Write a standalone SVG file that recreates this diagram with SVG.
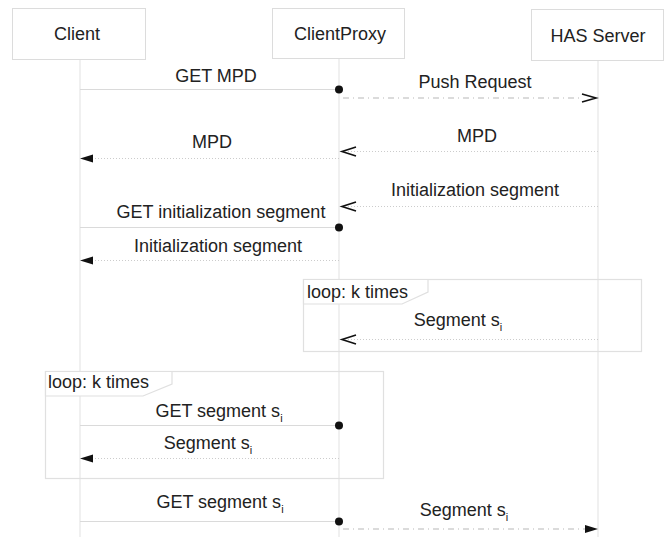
<svg xmlns="http://www.w3.org/2000/svg" width="665" height="537" viewBox="0 0 665 537">
  <style>
    text, tspan { font-family: "Liberation Sans", Arial, sans-serif; font-size: 18px; fill: #222; }
    .mid { text-anchor: middle; }
    tspan.sub { font-size: 11px; fill: #222; }
    .box { fill: #fff; stroke: #dcdcdc; stroke-width: 1; }
    .life { stroke: #e6e6e6; stroke-width: 1.2; fill: none; }
    .frame { fill: none; stroke: #e0e0e0; stroke-width: 1.2; }
    .tab { fill: #fff; stroke: #e0e0e0; stroke-width: 1.2; }
    .call { stroke: #dadada; stroke-width: 1.2; fill: none; }
    .reply { stroke: #cccccc; stroke-width: 1.2; stroke-dasharray: 1 2; fill: none; }
    .push { stroke: #d0d0d0; stroke-width: 1.3; stroke-dasharray: 6 4 1 4; fill: none; }
    .open { stroke: #111; stroke-width: 1.6; fill: none; }
    .solid { fill: #111; stroke: none; }
  </style>

  <!-- lifelines -->
  <g id="lifelines">
    <line class="life" x1="80" y1="59" x2="80" y2="537"/>
    <line class="life" x1="339" y1="58" x2="339" y2="537"/>
    <line class="life" x1="598" y1="60" x2="598" y2="537"/>
  </g>

  <!-- participants -->
  <g id="client">
    <rect class="box" x="12.5" y="8.5" width="133" height="51"/>
    <text class="mid" x="77" y="40">Client</text>
  </g>
  <g id="clientproxy">
    <rect class="box" x="272.5" y="8.5" width="132" height="50"/>
    <text class="mid" x="340" y="40">ClientProxy</text>
  </g>
  <g id="has-server">
    <rect class="box" x="531.5" y="9.5" width="132" height="51"/>
    <text class="mid" x="598" y="42">HAS Server</text>
  </g>

  <!-- loop frames -->
  <g id="loop-server">
    <rect class="frame" x="303.5" y="279.5" width="338" height="72"/>
    <path class="tab" d="M303.5,304 L402,304 L428,292 L428,279.5 L303.5,279.5 Z"/>
    <text x="307" y="298">loop: k times</text>
  </g>
  <g id="loop-client">
    <rect class="frame" x="45.5" y="371.5" width="338" height="107"/>
    <path class="tab" d="M45.5,396 L143,396 L172,384 L172,371.5 L45.5,371.5 Z"/>
    <text x="48" y="388">loop: k times</text>
  </g>

  <!-- messages -->
  <g id="connectors">
    <!-- GET MPD -->
    <line class="call" x1="80" y1="89.5" x2="339" y2="89.5"/>
    <circle class="solid" cx="339" cy="89.5" r="4"/>
    <text class="mid" x="216" y="82">GET MPD</text>

    <!-- Push Request -->
    <line class="push" x1="343" y1="98" x2="583" y2="98"/>
    <polyline class="open" points="582,94 596,98 582,102"/>
    <text class="mid" x="475" y="88">Push Request</text>

    <!-- MPD server to proxy -->
    <line class="reply" x1="598" y1="151.5" x2="346" y2="151.5"/>
    <polyline class="open" points="356,147 342,151.5 356,156"/>
    <text class="mid" x="477" y="142">MPD</text>

    <!-- MPD proxy to client -->
    <line class="reply" x1="339" y1="158.5" x2="90" y2="158.5"/>
    <polygon class="solid" points="80,158.5 93,154.5 93,162.5"/>
    <text class="mid" x="212" y="148">MPD</text>

    <!-- Initialization segment server to proxy -->
    <line class="reply" x1="598" y1="206.5" x2="346" y2="206.5"/>
    <polyline class="open" points="356,202 342,206.5 356,211"/>
    <text class="mid" x="475" y="196">Initialization segment</text>

    <!-- GET initialization segment -->
    <line class="call" x1="80" y1="227.5" x2="339" y2="227.5"/>
    <circle class="solid" cx="339" cy="227.5" r="4"/>
    <text class="mid" x="221" y="218">GET initialization segment</text>

    <!-- Initialization segment proxy to client -->
    <line class="reply" x1="339" y1="260.5" x2="90" y2="260.5"/>
    <polygon class="solid" points="80,260.5 93,256.5 93,264.5"/>
    <text class="mid" x="218" y="252">Initialization segment</text>

    <!-- Segment s_i server to proxy (loop) -->
    <line class="reply" x1="598" y1="339.5" x2="346" y2="339.5"/>
    <polyline class="open" points="356,335 342,339.5 356,344"/>
    <text class="mid" x="458" y="326">Segment s<tspan class="sub" dy="5">i</tspan></text>

    <!-- GET segment s_i (loop) -->
    <line class="call" x1="80" y1="425.5" x2="339" y2="425.5"/>
    <circle class="solid" cx="339" cy="425.5" r="4"/>
    <text class="mid" x="219" y="417">GET segment s<tspan class="sub" dy="5">i</tspan></text>

    <!-- Segment s_i proxy to client (loop) -->
    <line class="reply" x1="339" y1="458.5" x2="90" y2="458.5"/>
    <polygon class="solid" points="80,458.5 93,454.5 93,462.5"/>
    <text class="mid" x="208" y="449">Segment s<tspan class="sub" dy="5">i</tspan></text>

    <!-- GET segment s_i -->
    <line class="call" x1="80" y1="521.5" x2="339" y2="521.5"/>
    <circle class="solid" cx="339" cy="521.5" r="4"/>
    <text class="mid" x="220" y="508">GET segment s<tspan class="sub" dy="5">i</tspan></text>

    <!-- Segment s_i proxy onward -->
    <line class="push" x1="343" y1="529" x2="587" y2="529"/>
    <polygon class="solid" points="598,529 585,525 585,533"/>
    <text class="mid" x="464" y="516">Segment s<tspan class="sub" dy="5">i</tspan></text>
  </g>
</svg>
